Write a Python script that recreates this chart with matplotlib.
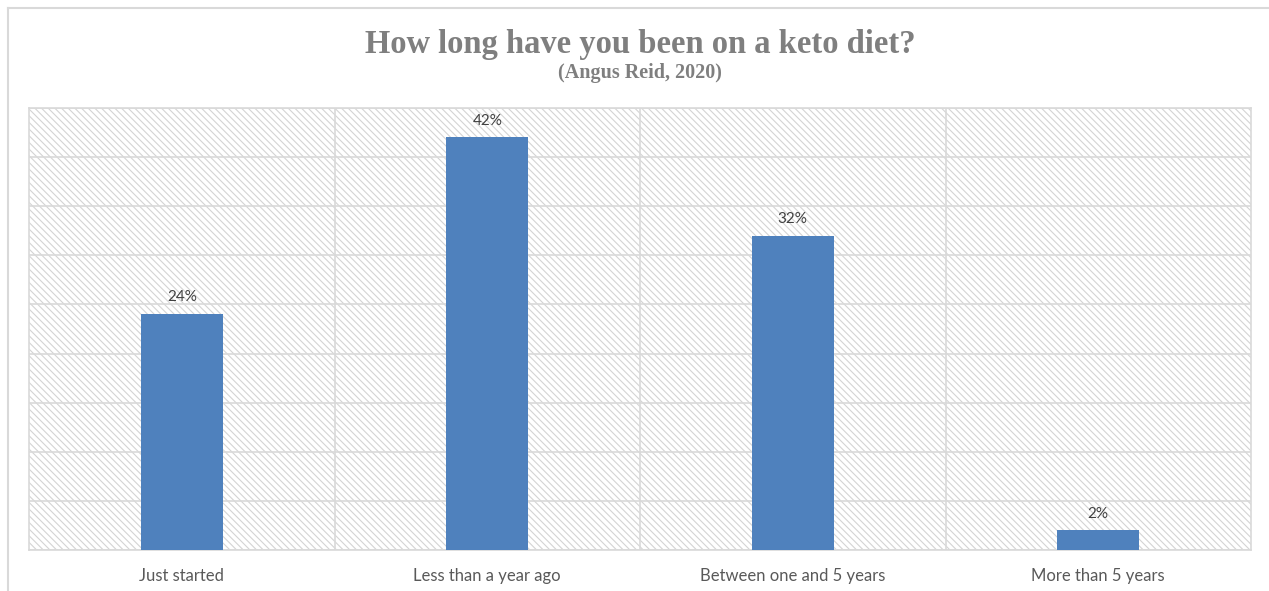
import matplotlib.pyplot as plt
from matplotlib.patches import Rectangle
from matplotlib.lines import Line2D

# Survey data
categories = ["Just started", "Less than a year ago", "Between one and 5 years", "More than 5 years"]
values = [24, 42, 32, 2]
value_labels = ["24%", "42%", "32%", "2%"]

fig = plt.figure(figsize=(12.69, 5.91), dpi=100)
W, H = 1269, 591

# plot area in pixels: left 29, right 1251, top 108, bottom 550
ax = fig.add_axes([29 / W, 1 - 550 / H, (1251 - 29) / W, (550 - 108) / H])

# hatched background
plt.rcParams['hatch.linewidth'] = 0.8
ax.add_patch(Rectangle((0, 0), 1, 1, transform=ax.transAxes, facecolor="white",
                       edgecolor="#D4D4D4", hatch="\\\\\\\\\\", linewidth=0, zorder=0))

x = range(len(categories))
ax.bar(x, values, width=0.27, color="#4F81BD", zorder=3)

for i, (v, lab) in enumerate(zip(values, value_labels)):
    ax.text(i, v + 1.0, lab, ha="center", va="bottom", fontsize=11,
            color="#404040", family="Lato", zorder=4)

ax.set_xlim(-0.5, len(categories) - 0.5)
ax.set_ylim(0, 45)
ax.set_yticks(range(0, 46, 5))
ax.yaxis.grid(True, color="#D9D9D9", linewidth=1.2, zorder=1)
ax.set_yticklabels([])
ax.tick_params(axis="y", length=0)

# vertical separators between categories
for b in [0.5, 1.5, 2.5]:
    ax.axvline(b, color="#D9D9D9", linewidth=1.2, zorder=1)

ax.set_xticks(list(x))
ax.set_xticklabels(categories, fontsize=12, color="#595959", family="Lato")
ax.tick_params(axis="x", length=0, pad=13)

for s in ax.spines.values():
    s.set_color("#D9D9D9")
    s.set_linewidth(1.2)
ax.set_axisbelow(True)

# titles
fig.text(0.5045, 1 - 44 / H, "How long have you been on a keto diet?", ha="center", va="center",
         fontsize=23.5, fontweight="bold", color="#7F7F7F", family="Liberation Serif")
fig.text(0.5045, 1 - 73 / H, "(Angus Reid, 2020)", ha="center", va="center",
         fontsize=14.5, fontweight="bold", color="#7F7F7F", family="Liberation Serif")

# outer chart border (top and left visible)
fig.add_artist(Line2D([8 / W, 8 / W], [0, 1 - 8 / H], transform=fig.transFigure,
                      color="#D9D9D9", linewidth=1.5))
fig.add_artist(Line2D([8 / W, 1], [1 - 8 / H, 1 - 8 / H], transform=fig.transFigure,
                      color="#D9D9D9", linewidth=1.5))

fig.savefig("out.png", dpi=100)
